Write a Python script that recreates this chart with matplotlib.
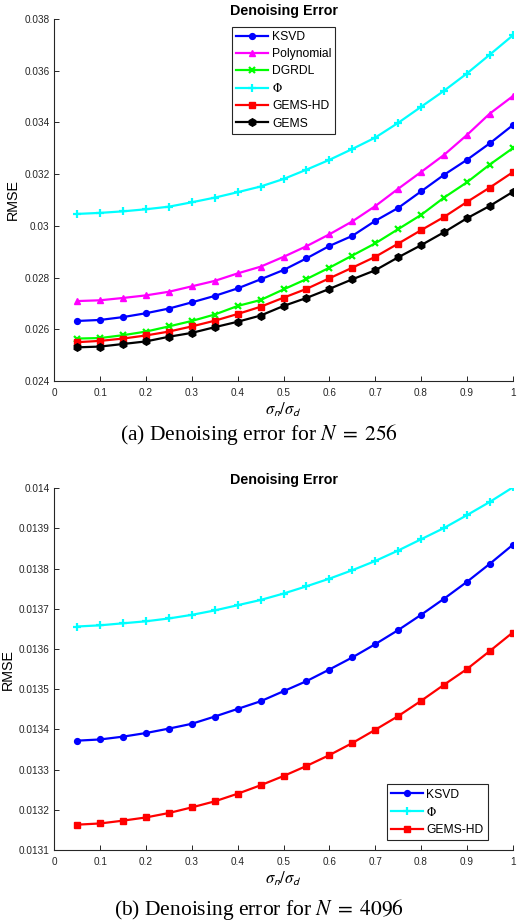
import matplotlib
matplotlib.use('Agg')
import matplotlib.pyplot as plt
from matplotlib.ticker import FuncFormatter

plt.rcParams['font.family'] = ['Liberation Sans', 'DejaVu Sans']
plt.rcParams['mathtext.fontset'] = 'stix'

# noise ratio sigma_n / sigma_d
x = [0.05, 0.1, 0.15, 0.2, 0.25, 0.3, 0.35, 0.4, 0.45, 0.5,
     0.55, 0.6, 0.65, 0.7, 0.75, 0.8, 0.85, 0.9, 0.95, 1.0]

# (a) N = 256
ksvd_a = [0.02632, 0.02636, 0.02647, 0.02662, 0.02680, 0.02704, 0.02729, 0.02758, 0.02793, 0.02829,
          0.02874, 0.02922, 0.02961, 0.03019, 0.03069, 0.03133, 0.03197, 0.03255, 0.03319, 0.03389]
poly_a = [0.02709, 0.02712, 0.02721, 0.02731, 0.02745, 0.02766, 0.02787, 0.02816, 0.02842, 0.02880,
          0.02921, 0.02967, 0.03017, 0.03076, 0.03143, 0.03208, 0.03274, 0.03351, 0.03434, 0.03501]
dgrdl_a = [0.02564, 0.02566, 0.02577, 0.02591, 0.02611, 0.02632, 0.02657, 0.02690, 0.02713, 0.02754,
           0.02794, 0.02838, 0.02885, 0.02932, 0.02987, 0.03042, 0.03109, 0.03168, 0.03237, 0.03300]
phi_a = [0.03046, 0.03050, 0.03056, 0.03064, 0.03074, 0.03091, 0.03109, 0.03130, 0.03152, 0.03181,
         0.03217, 0.03255, 0.03297, 0.03341, 0.03398, 0.03460, 0.03522, 0.03589, 0.03662, 0.03736]
gemshd_a = [0.02550, 0.02555, 0.02564, 0.02576, 0.02591, 0.02611, 0.02633, 0.02659, 0.02687, 0.02722,
            0.02756, 0.02797, 0.02838, 0.02880, 0.02931, 0.02983, 0.03034, 0.03092, 0.03148, 0.03207]
gems_a = [0.02530, 0.02533, 0.02543, 0.02553, 0.02571, 0.02586, 0.02608, 0.02629, 0.02653, 0.02690,
          0.02721, 0.02756, 0.02793, 0.02828, 0.02878, 0.02925, 0.02975, 0.03029, 0.03077, 0.03131]

# (b) N = 4096
ksvd_b = [0.013372, 0.013375, 0.013382, 0.013391, 0.013402, 0.013414, 0.013432, 0.013451, 0.013470, 0.013495,
          0.013520, 0.013549, 0.013579, 0.013612, 0.013647, 0.013685, 0.013725, 0.013767, 0.013812, 0.013859]
phi_b = [0.013656, 0.013659, 0.013664, 0.013669, 0.013676, 0.013685, 0.013696, 0.013709, 0.013722, 0.013738,
         0.013756, 0.013775, 0.013796, 0.013819, 0.013845, 0.013873, 0.013901, 0.013933, 0.013966, 0.014002]
gemshd_b = [0.013163, 0.013166, 0.013173, 0.013181, 0.013192, 0.013206, 0.013221, 0.013240, 0.013261, 0.013284,
            0.013309, 0.013336, 0.013366, 0.013399, 0.013433, 0.013471, 0.013511, 0.013550, 0.013595, 0.013641]

yticks_a = [0.024, 0.026, 0.028, 0.03, 0.032, 0.034, 0.036, 0.038]
yticks_b = [0.0131, 0.0132, 0.0133, 0.0134, 0.0135, 0.0136, 0.0137, 0.0138, 0.0139, 0.014]
xticks = [0, 0.1, 0.2, 0.3, 0.4, 0.5, 0.6, 0.7, 0.8, 0.9, 1]

fmt = FuncFormatter(lambda v, p: '%g' % v)

fig = plt.figure(figsize=(5.18, 9.24), dpi=100)
ax1 = fig.add_axes([0.1048, 0.5877, 0.885, 0.3918])
ax2 = fig.add_axes([0.1048, 0.0801, 0.885, 0.3915])

lw = 1.6
ms = 4.2


def style(ax, yticks):
    ax.set_xlim(0, 1)
    ax.set_ylim(yticks[0], yticks[-1])
    ax.set_xticks(xticks)
    ax.set_yticks(yticks)
    ax.xaxis.set_major_formatter(fmt)
    ax.yaxis.set_major_formatter(fmt)
    ax.spines['top'].set_visible(False)
    ax.spines['right'].set_visible(False)
    for s in ['left', 'bottom']:
        ax.spines[s].set_linewidth(0.8)
        ax.spines[s].set_color('#262626')
    ax.tick_params(direction='in', length=3.5, width=0.7, labelsize=7.2, colors='#262626')
    ax.tick_params(axis='x', pad=5)
    ax.set_title('Denoising Error', fontsize=10.3, fontweight='bold', pad=3)
    ax.set_ylabel('RMSE', fontsize=10.3, labelpad=3)
    ax.set_xlabel(r'$\sigma_{\mathsf{n}}/\sigma_{\mathsf{d}}$', fontsize=12, labelpad=2)


def legend(ax, loc, anchor):
    leg = ax.legend(loc=loc, bbox_to_anchor=anchor, fontsize=8.7,
                    handlelength=2.65, handletextpad=0.3, labelspacing=0.42,
                    borderpad=0.35, fancybox=False, framealpha=1, borderaxespad=0)
    leg.get_frame().set_edgecolor('#262626')
    leg.get_frame().set_linewidth(0.8)


ax1.plot(x, ksvd_a, color='#0000ff', lw=lw, marker='o', ms=ms, label='KSVD')
ax1.plot(x, poly_a, color='#ff00ff', lw=lw, marker='^', ms=ms + 0.6, label='Polynomial')
ax1.plot(x, dgrdl_a, color='#00ff00', lw=lw, marker='x', ms=ms, mew=1.6, label='DGRDL')
ax1.plot(x, phi_a, color='#00ffff', lw=lw, marker='+', ms=ms + 1.5, mew=1.6, label=r'$\Phi$')
ax1.plot(x, gemshd_a, color='#ff0000', lw=lw, marker='s', ms=ms - 0.4, label='GEMS-HD')
ax1.plot(x, gems_a, color='#000000', lw=lw, marker='h', ms=ms + 1.2, label='GEMS')
style(ax1, yticks_a)
legend(ax1, 'upper left', (0.3877, 0.978))

ax2.plot(x, ksvd_b, color='#0000ff', lw=lw, marker='o', ms=ms, label='KSVD')
ax2.plot(x, phi_b, color='#00ffff', lw=lw, marker='+', ms=ms + 1.5, mew=1.6, label=r'$\Phi$')
ax2.plot(x, gemshd_b, color='#ff0000', lw=lw, marker='s', ms=ms - 0.4, label='GEMS-HD')
style(ax2, yticks_b)
legend(ax2, 'lower right', (0.946, 0.0276))

fig.text(0.5, 1 - 435 / 924, r'(a) Denoising error for $N\;=\;256$', ha='center', va='center',
         fontsize=15.5, family='Liberation Serif')
fig.text(0.5, 1 - 910 / 924, r'(b) Denoising error for $N\;=\;4096$', ha='center', va='center',
         fontsize=15.5, family='Liberation Serif')

fig.savefig('out.png', dpi=100)
